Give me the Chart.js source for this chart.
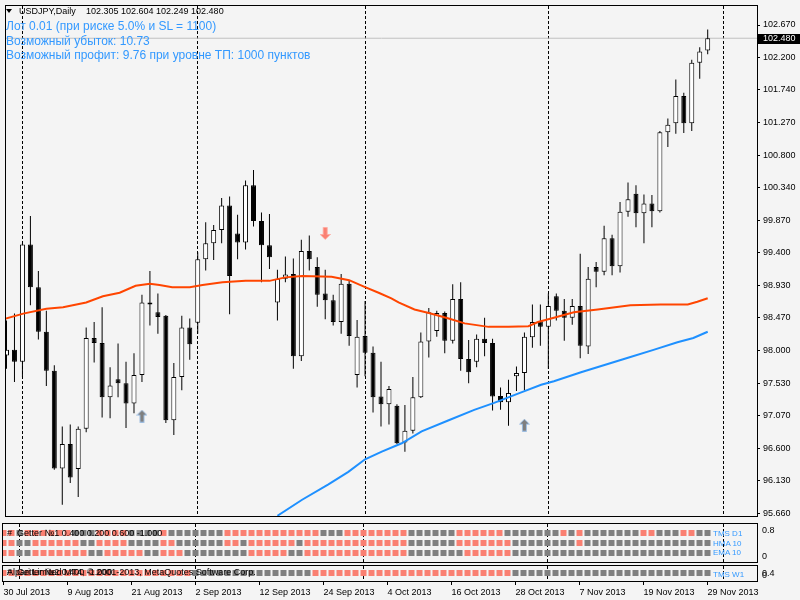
<!DOCTYPE html>
<html>
<head>
<meta charset="utf-8">
<script src="https://cdn.jsdelivr.net/npm/chart.js@4.4.0/dist/chart.umd.min.js"></script>
<style>
  html, body { margin: 0; padding: 0; background: #f4f4f4; }
  #wrap { position: relative; width: 800px; height: 600px; overflow: hidden; background: #f4f4f4; font-family: "Liberation Sans", Arial, sans-serif; }
  canvas { position: absolute; left: 0; }
  .t { position: absolute; white-space: nowrap; line-height: 1; }
  .blue { color: #3399ff; font-size: 12px; }
  .lbl { color: #3399ff; font-size: 8px; }
</style>
</head>
<body>
<div id="wrap">
  <canvas id="main" width="800" height="522" style="top:0"></canvas>
  <canvas id="ind1" width="800" height="44" style="top:521px"></canvas>
  <canvas id="ind2" width="800" height="37" style="top:563px"></canvas>

  <div class="t" style="left:6px;top:9px;width:0;height:0;border-left:3px solid transparent;border-right:3px solid transparent;border-top:4px solid #000"></div>
  <div class="t" style="left:19px;top:7px;font-size:9px">USDJPY,Daily</div>
  <div class="t" style="left:86px;top:7px;font-size:9px">102.305 102.604 102.249 102.480</div>
  <div class="t blue" style="left:6px;top:20px">Лот 0.01 (при риске 5.0% и SL = 1100)</div>
  <div class="t blue" style="left:6px;top:35px">Возможный убыток: 10.73</div>
  <div class="t blue" style="left:6px;top:49px">Возможный профит: 9.76 при уровне ТП: 1000 пунктов</div>

  <div class="t" style="left:7px;top:529px;font-size:9px">#&nbsp; Getter №1 0.400 0.200 0.600 -1.000</div>
  <div class="t" style="left:7px;top:568px;font-size:9px">#&nbsp; Getter №2 0.400 -1.000</div>
  <div class="t" style="left:7px;top:568px;font-size:9px">Alpari Limited MT4, © 2001-2013, MetaQuotes Software Corp.</div>

  <div class="t lbl" style="left:713px;top:530px">TMS D1</div>
  <div class="t lbl" style="left:713px;top:540px">HMA 10</div>
  <div class="t lbl" style="left:713px;top:549px">EMA 10</div>
  <div class="t lbl" style="left:713px;top:571px">TMS W1</div>
</div>

<script>
(function () {
  var FONT = '"Liberation Sans", Arial, sans-serif';

  // daily bars 30 Jul 2013 .. 29 Nov 2013 (index 0..88)
  var open = [97.93, 98.01, 97.84, 99.52, 98.91, 98.27, 97.71, 96.31, 96.66, 96.30,
    96.88, 98.18, 98.11, 97.33, 97.59, 97.53, 97.24, 97.65, 98.69, 98.55,
    98.50, 97.00, 97.62, 98.33, 98.40, 99.31, 99.54, 99.73, 100.08, 99.68,
    99.55, 100.37, 99.86, 99.51, 98.69, 99.03, 99.10, 97.92, 99.43, 99.20,
    98.82, 98.72, 98.41, 98.96, 97.65, 98.21, 97.97, 97.34, 97.23, 97.21,
    96.68, 96.85, 97.33, 98.13, 98.28, 98.54, 98.14, 98.74, 97.88, 97.84,
    98.17, 98.11, 97.35, 97.26, 97.63, 97.68, 98.19, 98.42, 98.34, 98.78,
    98.57, 98.47, 98.64, 98.06, 99.20, 99.13, 99.61, 99.21, 99.99, 100.25,
    99.97, 100.11, 100.00, 101.13, 101.26, 101.65, 101.26, 102.13, 102.305];
  var high = [98.43, 98.53, 99.54, 99.93, 99.14, 98.57, 97.79, 96.91, 96.94, 96.91,
    98.33, 98.41, 98.62, 97.76, 98.10, 97.84, 97.96, 98.80, 99.14, 98.82,
    98.51, 97.82, 98.50, 98.46, 99.41, 99.84, 99.80, 100.19, 100.21, 99.95,
    100.44, 100.59, 99.98, 99.96, 99.16, 99.35, 99.32, 99.59, 99.65, 99.34,
    99.16, 98.80, 99.10, 99.01, 98.44, 98.71, 98.06, 97.84, 97.49, 97.23,
    97.22, 97.62, 98.26, 98.61, 98.57, 98.56, 98.95, 98.98, 98.15, 98.23,
    98.47, 98.17, 97.47, 97.58, 97.77, 98.26, 98.66, 98.66, 98.82, 98.82,
    98.74, 98.74, 99.39, 99.20, 99.27, 99.79, 99.66, 100.13, 100.41, 100.37,
    100.24, 100.23, 101.15, 101.33, 101.89, 101.70, 102.17, 102.35, 102.604];
  var low = [97.74, 97.55, 97.62, 98.65, 98.16, 97.49, 96.29, 95.79, 96.10, 95.90,
    96.83, 97.83, 97.04, 97.03, 97.33, 96.89, 97.10, 97.55, 98.36, 98.24,
    96.96, 96.79, 97.43, 97.87, 98.24, 99.15, 99.30, 99.54, 98.52, 99.31,
    99.45, 99.78, 98.98, 99.17, 98.43, 98.98, 97.74, 97.85, 99.15, 98.63,
    98.45, 98.36, 98.24, 98.07, 97.47, 97.63, 97.11, 96.91, 96.94, 96.66,
    96.55, 96.81, 97.32, 97.90, 98.20, 97.96, 98.10, 97.71, 97.53, 97.76,
    97.92, 97.14, 97.15, 96.92, 97.42, 97.43, 98.04, 98.07, 97.74, 98.43,
    98.14, 98.37, 97.89, 97.95, 98.91, 99.08, 99.08, 99.12, 99.92, 99.77,
    99.54, 99.77, 99.98, 100.92, 101.11, 101.12, 101.15, 101.90, 102.249];
  var close = [98.01, 97.84, 99.52, 98.91, 98.27, 97.71, 96.31, 96.66, 96.18, 96.88,
    98.18, 98.11, 97.33, 97.50, 97.53, 97.24, 97.65, 98.69, 98.66, 98.48,
    97.00, 97.62, 98.33, 98.09, 99.31, 99.54, 99.73, 100.08, 99.07, 99.55,
    100.37, 99.86, 99.51, 99.34, 99.03, 99.09, 97.92, 99.43, 99.31, 98.80,
    98.72, 98.41, 98.96, 98.21, 98.20, 97.97, 97.33, 97.23, 97.45, 96.67,
    96.85, 97.33, 98.13, 98.55, 98.54, 98.14, 98.74, 97.88, 97.69, 98.17,
    98.11, 97.34, 97.26, 97.39, 97.68, 98.20, 98.41, 98.34, 98.64, 98.57,
    98.47, 98.64, 98.07, 99.03, 99.13, 99.61, 99.21, 99.99, 100.17, 99.97,
    100.11, 100.00, 101.13, 101.24, 101.65, 101.26, 102.13, 102.29, 102.480];

  // moving averages: bar index / price
  var maRedX = [-0.1, 2.1, 5.0, 7.1, 10.0, 12.1, 14.2, 16.2, 18.0, 19.2, 20.8, 23.0, 24.6, 27.1, 30.0,
    33.0, 35.0, 37.1, 40.8, 43.0, 45.0, 46.7, 48.3, 49.2, 51.2, 53.0, 55.5, 57.5, 60.5, 63.0,
    65.5, 66.7, 68.7, 71.2, 74.2, 78.3, 82.1, 85.5, 86.7, 88.0];
  var maRedY = [98.46, 98.53, 98.60, 98.62, 98.69, 98.78, 98.83, 98.93, 98.96, 98.94, 98.91, 98.91, 98.94, 98.98, 99.00,
    99.00, 99.05, 99.07, 99.06, 99.01, 98.91, 98.83, 98.75, 98.69, 98.59, 98.54, 98.46, 98.39, 98.34, 98.34,
    98.35, 98.41, 98.47, 98.55, 98.59, 98.65, 98.66, 98.66, 98.70, 98.75];
  var maBlueX = [34.0, 37.1, 40.4, 42.9, 45.0, 47.1, 49.6, 52.1, 55.5, 58.7, 61.2, 64.6, 67.1, 68.7, 72.1,
    78.1, 81.2, 84.2, 86.2, 88.0];
  var maBlueY = [95.63, 95.86, 96.08, 96.26, 96.44, 96.55, 96.67, 96.84, 97.00, 97.15, 97.25, 97.40, 97.51, 97.56, 97.69,
    97.90, 98.01, 98.12, 98.18, 98.27];

  // signal arrows
  var upArrowX = [17, 65];
  var upArrowY = [97.06, 96.93];
  var downArrowX = [40];
  var downArrowY = [99.68];

  // indicator squares, 1 = red, 0 = grey
  var tmsD1 = [1,1,0,1,1,1,1,1,1,0, 0,0,1,1,1,1,0,0,0,0, 1,0,0,0,0,0,0,0,1,1,
    1,1,1,1,1,1,1,1,1,1, 0,0,0,1,1,1,1,1,1,1, 1,0,0,0,0,0,0,1,1,1,
    1,1,1,0,0,0,0,0,0,0, 1,0,1,0,0,0,0,0,0,0, 1,1,0,0,0,1,1,0,0];
  var hma10 = [1,1,0,0,1,1,1,1,1,1, 0,0,1,1,1,1,0,0,0,0, 1,1,0,0,0,0,0,0,1,1,
    0,1,1,1,1,1,1,0,1,1, 1,1,1,1,1,1,1,1,1,1, 1,0,0,0,0,0,0,1,1,1,
    1,1,1,1,0,0,0,0,0,0, 0,0,1,0,0,0,0,0,0,0, 0,0,0,0,0,0,0,0,0];
  var ema10 = [1,1,0,0,1,1,1,1,1,1, 1,0,0,1,1,1,1,1,0,0, 1,1,1,0,0,0,0,0,0,0,
    0,1,1,1,1,1,0,0,1,1, 1,1,1,1,1,1,1,1,1,1, 1,0,0,0,0,0,0,0,1,1,
    1,1,1,1,0,0,0,0,0,0, 0,0,0,0,0,0,0,0,0,0, 0,0,0,0,0,0,0,0,0];
  var tmsW1 = [1,1,1,1,1,1,1,1,1,1, 1,1,1,1,1,1,1,1,1,1, 1,1,1,1,0,0,0,0,0,0,
    0,0,0,0,0,0,0,0,0,1, 1,1,1,1,1,1,1,1,1,1, 1,1,1,1,1,1,1,1,1,1,
    1,1,1,1,0,0,0,0,0,0, 0,0,0,0,0,0,0,0,0,0, 0,0,0,0,0,0,0,0,0];

  // axes
  var yTicks = [95.66, 96.13, 96.60, 97.07, 97.53, 98.00, 98.47, 98.93, 99.40, 99.87, 100.34, 100.80, 101.27, 101.74, 102.20, 102.67];
  var monthIdx = [2, 24, 45, 68, 90];
  var dateIdx = [0, 8, 16, 24, 32, 40, 48, 56, 64, 72, 80, 88];
  var dateLabels = ['30 Jul 2013', '9 Aug 2013', '21 Aug 2013', '2 Sep 2013', '12 Sep 2013', '24 Sep 2013',
    '4 Oct 2013', '16 Oct 2013', '28 Oct 2013', '7 Nov 2013', '19 Nov 2013', '29 Nov 2013'];

  var RED = '#fa8072', GREY = '#808080';
  var xMin = -0.0625, xMax = 94.1875;

  function noPad(s) { s.paddingTop = 0; s.paddingBottom = 0; s.paddingLeft = 0; s.paddingRight = 0; }
  function fixWidth(w) { return function (s) { s.width = w; noPad(s); }; }
  function fixHeight(h) { return function (s) { s.height = h; noPad(s); }; }

  function monthAxis(pos) {
    return {
      type: 'linear', position: pos, min: xMin, max: xMax, offset: false,
      grid: { color: '#000', lineWidth: 1, drawTicks: false, offset: false },
      border: { display: false, dash: [3, 2] },
      ticks: { display: false },
      afterBuildTicks: function (s) { s.ticks = monthIdx.map(function (v) { return { value: v }; }); },
      afterFit: fixHeight(0)
    };
  }

  function valueAxis(min, max, ticksFn, labelFn, drawTicks, pad) {
    return {
      type: 'linear', position: 'right', min: min, max: max,
      grid: { drawOnChartArea: false, drawTicks: drawTicks, tickLength: 3, color: '#000', tickColor: '#000' },
      border: { display: false },
      ticks: { color: '#000', font: { family: FONT, size: 9 }, padding: pad, autoSkip: false, callback: labelFn },
      afterBuildTicks: ticksFn,
      afterFit: fixWidth(43)
    };
  }

  var frame = {
    id: 'frame',
    afterDraw: function (chart) {
      var a = chart.chartArea, ctx = chart.ctx;
      ctx.save();
      ctx.strokeStyle = '#000';
      ctx.lineWidth = 1;
      ctx.strokeRect(a.left - 0.5, a.top - 0.5, a.right - a.left + 1, a.bottom - a.top + 1);
      ctx.restore();
    }
  };

  var priceTag = {
    id: 'priceTag',
    afterDraw: function (chart) {
      var last = close[close.length - 1];
      var ctx = chart.ctx, a = chart.chartArea;
      var y = Math.round(chart.scales.y.getPixelForValue(last));
      ctx.save();
      ctx.fillStyle = '#000';
      ctx.fillRect(a.right + 1, y - 4, chart.width - a.right - 1, 10);
      ctx.fillStyle = '#fff';
      ctx.font = '9px ' + FONT;
      ctx.textBaseline = 'middle';
      ctx.fillText(last.toFixed(3), a.right + 6, y + 1);
      ctx.restore();
    }
  };

  function arrowImage(up, fill, edge) {
    var c = document.createElement('canvas');
    c.width = 11; c.height = 13;
    var g = c.getContext('2d');
    g.beginPath();
    if (up) {
      g.moveTo(5.5, 0.5); g.lineTo(10.5, 5.5); g.lineTo(7.5, 5.5); g.lineTo(7.5, 12.5);
      g.lineTo(3.5, 12.5); g.lineTo(3.5, 5.5); g.lineTo(0.5, 5.5);
    } else {
      g.moveTo(5.5, 12.5); g.lineTo(10.5, 7.5); g.lineTo(7.5, 7.5); g.lineTo(7.5, 0.5);
      g.lineTo(3.5, 0.5); g.lineTo(3.5, 7.5); g.lineTo(0.5, 7.5);
    }
    g.closePath();
    g.fillStyle = fill; g.fill();
    g.strokeStyle = edge; g.lineWidth = 1; g.stroke();
    return c;
  }

  function pairs(xs, ys) { return xs.map(function (x, i) { return { x: x, y: ys[i] }; }); }
  var idx = close.map(function (_, i) { return i; });

  var base = {
    responsive: false, animation: false, devicePixelRatio: 1, events: [],
    plugins: { legend: { display: false }, tooltip: { enabled: false } }
  };
  function opts(extra) { return Object.assign({}, base, extra); }

  // main price panel
  var last = close[close.length - 1];
  new Chart(document.getElementById('main'), {
    type: 'bar',
    data: {
      datasets: [
        { type: 'line', data: [{ x: xMin - 1, y: last }, { x: xMax + 1, y: last }], borderColor: '#c0c0c0', borderWidth: 1, pointRadius: 0, order: 6 },
        { data: idx.map(function (i) { return { x: i, y: [low[i], high[i]] }; }), backgroundColor: '#000', borderWidth: 0,
          barThickness: 1, grouped: false, inflateAmount: 0, order: 5 },
        { data: idx.map(function (i) { return { x: i, y: [open[i], close[i]] }; }),
          backgroundColor: idx.map(function (i) { return close[i] >= open[i] ? '#fff' : '#000'; }),
          borderColor: '#000', borderWidth: 1, borderSkipped: false, barThickness: 5, grouped: false, inflateAmount: 0, order: 4 },
        { type: 'line', data: pairs(maRedX, maRedY), borderColor: '#ff4500', borderWidth: 2, pointRadius: 0, tension: 0, order: 3 },
        { type: 'line', data: pairs(maBlueX, maBlueY), borderColor: '#1e90ff', borderWidth: 2, pointRadius: 0, tension: 0, order: 2 },
        { type: 'line', data: pairs(upArrowX, upArrowY), showLine: false, pointRadius: 5,
          pointStyle: arrowImage(true, '#7f7f7f', 'rgba(150,190,235,0.8)'), order: 1 },
        { type: 'line', data: pairs(downArrowX, downArrowY), showLine: false, pointRadius: 5,
          pointStyle: arrowImage(false, '#fa8072', 'rgba(255,170,160,0.9)'), order: 1 }
      ]
    },
    options: opts({
      layout: { padding: { left: 3, right: 0, top: 3, bottom: 2 } },
      scales: {
        x: monthAxis('bottom'),
        y: valueAxis(95.627, 102.9426,
          function (s) { s.ticks = yTicks.map(function (v) { return { value: v }; }); },
          function (v) { return v.toFixed(3); }, true, 3)
      }
    }),
    plugins: [frame, priceTag]
  });

  function squares(signal, row, half) {
    return {
      data: idx.map(function (i) { return { x: i, y: [row - half, row + half] }; }),
      backgroundColor: signal.map(function (s) { return s ? RED : GREY; }),
      borderWidth: 0, barThickness: 6, grouped: false, inflateAmount: 0
    };
  }

  // indicator window 1
  var ind1Labels = ['0.8', '0'];
  new Chart(document.getElementById('ind1'), {
    type: 'bar',
    data: { datasets: [squares(tmsD1, 0.6, 0.06), squares(hma10, 0.4, 0.06), squares(ema10, 0.2, 0.06)] },
    options: opts({
      layout: { padding: { left: 3, right: 0, top: 3, bottom: 3 } },
      scales: {
        x: monthAxis('bottom'),
        y: valueAxis(0.02, 0.78,
          function (s) { s.ticks = [{ value: 0.646 }, { value: 0.126 }]; },
          function (v, i) { return ind1Labels[i]; }, false, 5)
      }
    }),
    plugins: [frame]
  });

  // indicator window 2 with the date axis
  var ind2Labels = ['0.4', '0'];
  var dateAxis = {
    type: 'linear', position: 'bottom', min: xMin, max: xMax, offset: false,
    grid: { drawOnChartArea: false, drawTicks: true, tickLength: 4, color: '#000', tickColor: '#000', offset: false },
    border: { display: false },
    ticks: { color: '#000', font: { family: FONT, size: 9 }, padding: 2, align: 'start', autoSkip: false, maxRotation: 0, minRotation: 0,
      callback: function (v, i) { return dateLabels[i]; } },
    afterBuildTicks: function (s) { s.ticks = dateIdx.map(function (v) { return { value: v }; }); },
    afterFit: fixHeight(19)
  };
  new Chart(document.getElementById('ind2'), {
    type: 'bar',
    data: { datasets: [squares(tmsW1, 0.4, 0.15)] },
    options: opts({
      layout: { padding: { left: 3, right: 0, top: 3, bottom: 0 } },
      scales: {
        x: monthAxis('top'),
        x2: dateAxis,
        y: valueAxis(0, 0.75,
          function (s) { s.ticks = [{ value: 0.375 }, { value: 0.275 }]; },
          function (v, i) { return ind2Labels[i]; }, false, 5)
      }
    }),
    plugins: [frame]
  });
})();
</script>
</body>
</html>
